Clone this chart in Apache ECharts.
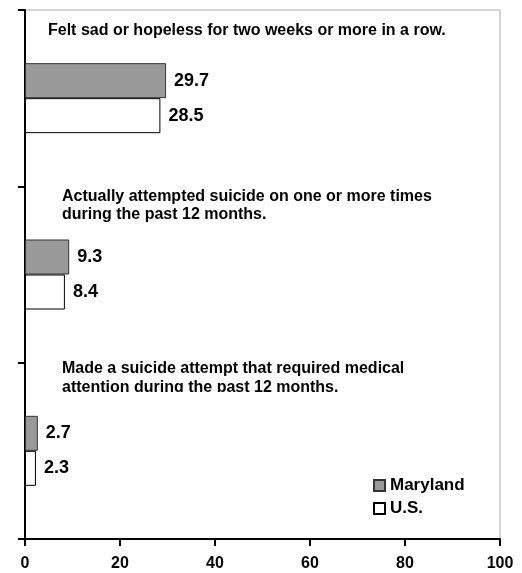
<!DOCTYPE html>
<html>
<head>
<meta charset="utf-8">
<script src="https://cdn.jsdelivr.net/npm/echarts@6/dist/echarts.min.js"></script>
<style>
  html, body { margin: 0; padding: 0; background: #fff; }
  #chart { width: 522px; height: 573px; }
</style>
</head>
<body>
<div id="chart"></div>
<script>
// Youth risk behavior: sadness and suicide attempts, Maryland vs. U.S. (percent)
const categories = ['sad', 'attempted', 'medical'];
const categoryText = [
  ['Felt sad or hopeless for two weeks or more in a row.'],
  ['Actually attempted suicide on one or more times', 'during the past 12 months.'],
  ['Made a suicide attempt that required medical', 'attention during the past 12 months.']
];
const marylandValues = [29.7, 9.3, 2.7];
const usValues = [28.5, 8.4, 2.3];
const xTicks = [0, 20, 40, 60, 80, 100];

const FONT = '"Liberation Sans", Arial, sans-serif';
const chart = echarts.init(document.getElementById('chart'));

// Heading text blocks placed inside the plot above each pair of bars
const textBlocks = [
  { x: 48, y: 22, lines: categoryText[0] },
  { x: 62, y: 188, lines: categoryText[1] },
  { x: 62, y: 359, lines: categoryText[2], lineHeight: 19 }
];
const graphics = [];
textBlocks.forEach(b => {
  graphics.push({
    type: 'text', left: b.x, top: b.y, z: 50,
    style: {
      text: b.lines.join('\n'), fill: '#000',
      font: 'bold 16px ' + FONT, lineHeight: b.lineHeight || 18
    }
  });
});
// the last heading's second line is cut off at its baseline
graphics.push({
  type: 'rect', left: 55, top: 392, z: 60,
  shape: { width: 340, height: 10 },
  style: { fill: '#fff' }
});

chart.setOption({
  animation: false,
  backgroundColor: '#fff',
  textStyle: { fontFamily: FONT },
  grid: {
    left: 25, right: 22, top: 10, bottom: 34,
    show: true, borderColor: '#aaa', borderWidth: 1, backgroundColor: 'transparent'
  },
  legend: {
    orient: 'vertical', left: 368, top: 472,
    itemWidth: 11, itemHeight: 11, itemGap: 6, icon: 'rect',
    textStyle: { fontWeight: 'bold', fontSize: 17, color: '#000', fontFamily: FONT },
    data: ['Maryland', 'U.S.']
  },
  xAxis: {
    type: 'value', min: 0, max: 100, interval: 20,
    axisLine: { show: true, lineStyle: { color: '#000', width: 2 } },
    axisTick: { show: true, length: 7, lineStyle: { color: '#000', width: 2 } },
    axisLabel: {
      margin: 17, fontWeight: 'bold', fontSize: 16, color: '#000', fontFamily: FONT,
      formatter: v => xTicks.includes(v) ? String(v) : ''
    },
    splitLine: { show: false }
  },
  yAxis: {
    type: 'category', data: categories, inverse: true,
    axisLine: { show: true, lineStyle: { color: '#000', width: 2 } },
    axisTick: { show: true, length: 7, lineStyle: { color: '#000', width: 2 } },
    axisLabel: { show: false },
    splitLine: { show: false }
  },
  series: [
    {
      name: 'Maryland', type: 'bar', data: marylandValues,
      barWidth: 35, barGap: '0%',
      itemStyle: { color: '#999999', borderColor: '#333', borderWidth: 1 },
      label: {
        show: true, position: 'right', distance: 8,
        fontWeight: 'bold', fontSize: 18, color: '#000', fontFamily: FONT,
        formatter: p => p.value.toFixed(1)
      }
    },
    {
      name: 'U.S.', type: 'bar', data: usValues,
      barWidth: 35, barGap: '0%',
      itemStyle: { color: '#ffffff', borderColor: '#000', borderWidth: 1 },
      label: {
        show: true, position: 'right', distance: 8,
        fontWeight: 'bold', fontSize: 18, color: '#000', fontFamily: FONT,
        formatter: p => p.value.toFixed(1)
      }
    }
  ],
  graphic: graphics
});
</script>
</body>
</html>
